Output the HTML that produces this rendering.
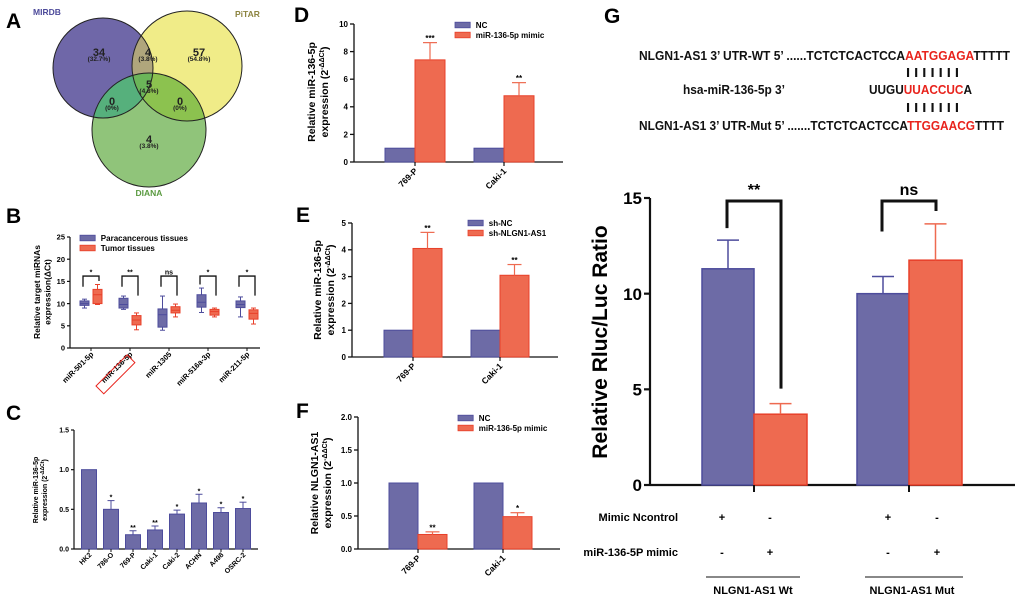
<!DOCTYPE html>
<html><head><meta charset="utf-8">
<style>
html,body{margin:0;padding:0;background:#fff;}
svg{display:block;font-family:"Liberation Sans",Arial,sans-serif;}
.b{font-weight:bold;}
</style></head>
<body>
<svg id="fig" width="1020" height="598" viewBox="0 0 1020 598">
<defs>
<clipPath id="cM"><circle cx="103" cy="68" r="50"/></clipPath>
<clipPath id="cP"><circle cx="187" cy="66" r="55"/></clipPath>
<clipPath id="cD"><circle cx="149" cy="130" r="57"/></clipPath>
</defs>
<!-- Panel labels -->
<g class="b" font-size="21" fill="#000">
<text x="6" y="28">A</text>
<text x="6" y="223">B</text>
<text x="6" y="420">C</text>
<text x="294" y="22">D</text>
<text x="296" y="222">E</text>
<text x="296" y="418">F</text>
<text x="604" y="23">G</text>
</g>
<!-- Venn -->
<g>
<circle cx="103" cy="68" r="50" fill="#6f67a8"/>
<circle cx="187" cy="66" r="55" fill="#f0ec88"/>
<circle cx="187" cy="66" r="55" fill="#b0a67c" clip-path="url(#cM)"/>
<circle cx="149" cy="130" r="57" fill="#90c47a"/>
<circle cx="149" cy="130" r="57" fill="#56b07c" clip-path="url(#cM)"/>
<circle cx="149" cy="130" r="57" fill="#8cc24f" clip-path="url(#cP)"/>
<g clip-path="url(#cM)"><circle cx="149" cy="130" r="57" fill="#6bb559" clip-path="url(#cP)"/></g>
<circle cx="103" cy="68" r="50" fill="none" stroke="#222" stroke-width="1"/>
<circle cx="187" cy="66" r="55" fill="none" stroke="#222" stroke-width="1"/>
<circle cx="149" cy="130" r="57" fill="none" stroke="#222" stroke-width="1"/>
<g class="b" text-anchor="middle" fill="#222">
<text x="99" y="56" font-size="11">34</text><text x="99" y="61" font-size="6.5">(32.7%)</text>
<text x="148" y="56" font-size="11">4</text><text x="148" y="61" font-size="6.5">(3.8%)</text>
<text x="199" y="56" font-size="11">57</text><text x="199" y="61" font-size="6.5">(54.8%)</text>
<text x="149" y="88" font-size="11">5</text><text x="149" y="93" font-size="6.5">(4.8%)</text>
<text x="112" y="105" font-size="11">0</text><text x="112" y="110" font-size="6.5">(0%)</text>
<text x="180" y="105" font-size="11">0</text><text x="180" y="110" font-size="6.5">(0%)</text>
<text x="149" y="143" font-size="11">4</text><text x="149" y="148" font-size="6.5">(3.8%)</text>
</g>
<text x="33" y="15" font-size="8.5" class="b" fill="#4d4a9a">MIRDB</text>
<text x="235" y="17" font-size="8.5" class="b" fill="#8c8440">PiTAR</text>
<text x="149" y="196" font-size="8.5" class="b" fill="#5a9a40" text-anchor="middle">DIANA</text>
</g>
<!-- Sequence G -->
<g class="b" font-size="12.5" fill="#111">
<text x="639" y="60" textLength="371" lengthAdjust="spacingAndGlyphs">NLGN1-AS1 3’ UTR-WT  5’ ......TCTCTCACTCCA<tspan fill="#e8231c">AATGGAGA</tspan>TTTTT</text>
<text x="906" y="77" textLength="53" lengthAdjust="spacingAndGlyphs">I  I I  I I  I I</text>
<text x="683" y="94" textLength="102" lengthAdjust="spacingAndGlyphs">hsa-miR-136-5p  3’</text>
<text x="869" y="94" textLength="103" lengthAdjust="spacingAndGlyphs">UUGU<tspan fill="#e8231c">UUACCUC</tspan>A</text>
<text x="906" y="112" textLength="53" lengthAdjust="spacingAndGlyphs">I  I I  I I  I I</text>
<text x="639" y="130" textLength="365" lengthAdjust="spacingAndGlyphs">NLGN1-AS1 3’ UTR-Mut 5’ .......TCTCTCACTCCA<tspan fill="#e8231c">TTGGAACG</tspan>TTTT</text>
</g>
<g id="marks"></g>
</svg>
<script>
// ---------- Data ----------
// Panel B boxplots
const bCats = ["miR-501-5p","miR-136-5p","miR-1305","miR-516a-3p","miR-211-5p"];
const bBlueMin = [9, 8.7, 4, 8, 7];
const bBlueQ1 = [9.6, 9, 4.7, 9.2, 9.1];
const bBlueMed = [10, 9.8, 7.5, 10.3, 9.8];
const bBlueQ3 = [10.6, 11.2, 8.8, 12, 10.6];
const bBlueMax = [11, 11.7, 11.7, 13.5, 11.5];
const bRedMin = [9.8, 4.1, 7, 7, 5.4];
const bRedQ1 = [10, 5.2, 7.9, 7.4, 6.5];
const bRedMed = [12, 6.3, 8.5, 8.2, 7.8];
const bRedQ3 = [13.2, 7.3, 9.3, 8.7, 8.6];
const bRedMax = [14.3, 7.9, 9.9, 9, 9];
const bSig = ["*","**","ns","*","*"];
const bTicks = [0,5,10,15,20,25];
// Panel C
const cCats = ["HK2","786-O","769-P","Caki-1","Caki-2","ACHN","A498","OSRC-2"];
const cVals = [1.0, 0.5, 0.18, 0.24, 0.44, 0.58, 0.46, 0.51];
const cErr = [0, 0.11, 0.05, 0.05, 0.05, 0.11, 0.06, 0.08];
const cSig = ["","*","**","**","*","*","*","*"];
const cTicks = [0, 0.5, 1.0, 1.5];
const cTickLabels = ["0.0","0.5","1.0","1.5"];
// Panel D
const dCats = ["769-P","Caki-1"];
const dNC = [1, 1];
const dMimic = [7.4, 4.8];
const dMimicErr = [1.25, 0.95];
const dSig = ["***","**"];
const dTicks = [0,2,4,6,8,10];
// Panel E
const eCats = ["769-P","Caki-1"];
const eNC = [1, 1];
const eSh = [4.05, 3.05];
const eShErr = [0.6, 0.4];
const eSig = ["**","**"];
const eTicks = [0,1,2,3,4,5];
// Panel F
const fCats = ["769-P","Caki-1"];
const fNC = [1, 1];
const fMimic = [0.22, 0.49];
const fMimicErr = [0.04, 0.06];
const fSig = ["**","*"];
const fTicks = [0,0.5,1.0,1.5,2.0];
const fTickLabels = ["0.0","0.5","1.0","1.5","2.0"];
// Panel G
const gCats = ["NLGN1-AS1 Wt","NLGN1-AS1 Mut"];
const gNC = [11.3, 10.0];
const gNCErr = [1.5, 0.9];
const gMimic = [3.7, 11.75];
const gMimicErr = [0.55, 1.9];
const gSig = ["**","ns"];
const gTicks = [0,5,10,15];

const BLUE = "#6d6ba6", BLUE_S = "#4d4c9c", RED = "#ee6a50", RED_S = "#e8402a";
const NS = "http://www.w3.org/2000/svg";
const root = document.getElementById("marks");

function mk(tag, attrs, name, parent) {
  const el = document.createElementNS(NS, tag);
  for (const k in attrs) el.setAttribute(k, attrs[k]);
  
  
  (parent || root).appendChild(el);
  return el;
}
function txt(s, attrs, name, parent) { const t = mk("text", attrs, name, parent); t.textContent = s; return t; }
function line(x1,y1,x2,y2,stroke,w,name,parent){ return mk("line",{x1,y1,x2,y2,stroke,"stroke-width":w},name,parent); }

function axes(g, L, ticks, labels, fs, name) {
  const y = v => L.yBot - (v / L.max) * (L.yBot - L.yTop);
  line(L.x0, L.yTop, L.x0, L.yBot, "#111", L.aw, name + "-y-axis", g);
  line(L.x0, L.yBot, L.xEnd, L.yBot, "#111", L.aw, name + "-x-axis", g);
  ticks.forEach((t, i) => {
    line(L.x0 - L.tl, y(t), L.x0, y(t), "#111", L.aw, name + "-y-tick", g);
    txt(labels ? labels[i] : String(t), {x: L.x0 - L.tl - 2, y: y(t) + fs * 0.36, "font-size": fs, "text-anchor": "end", "font-weight": "bold"}, name + "-y-tick-label", g);
  });
  return y;
}
function ylabel(g, lines, x, yc, fs, name) {
  lines.forEach((l, i) => {
    const t = mk("text", {x: 0, y: 0, "font-size": fs, "font-weight": "bold", "text-anchor": "middle", transform: `translate(${x + i * fs * 1.25},${yc}) rotate(-90)`}, name, g);
    t.innerHTML = l;
  });
}
function xcatLabel(g, s, cx, yb, fs, name) {
  txt(s, {x: 0, y: 0, "font-size": fs, "font-weight": "bold", "text-anchor": "end", transform: `translate(${cx + 3},${yb + fs * 0.9}) rotate(-45)`}, name, g);
}
function bar(g, x, w, y, v, fill, stroke, sw, name, L) {
  const top = y(v);
  return mk("rect", {x, y: top, width: w, height: L.yBot - top, fill, stroke, "stroke-width": sw}, name, g);
}
function errbar(g, cx, y, v, e, col, capw, sw, name) {
  if (e <= 0) return;
  line(cx, y(v), cx, y(v + e), col, sw, name, g);
  line(cx - capw, y(v + e), cx + capw, y(v + e), col, sw, name + "-cap", g);
}
function legend(g, x, y, items, fs, name) {
  items.forEach((it, i) => {
    mk("rect", {x, y: y + i * fs * 1.25 - fs * 0.35, width: fs * 1.9, height: fs * 0.7, fill: it[1], stroke: it[2], "stroke-width": 0.8}, name + "-swatch", g);
    txt(it[0], {x: x + fs * 2.6, y: y + i * fs * 1.25 + fs * 0.35, "font-size": fs, "font-weight": "bold"}, name + "-entry", g);
  });
}

// ---------- Panel B ----------
(function(){
  const g = mk("g", {}, "panel-b-boxplot");
  const L = {x0: 70, xEnd: 260, yTop: 237, yBot: 348, max: 25, tl: 3, aw: 1.2};
  const y = axes(g, L, bTicks, null, 7.5, "panel-b");
  ylabel(g, ["Relative target miRNAs", "expression(ΔCt)"], 40, 292, 8.5, "panel-b-y-axis-title");
  legend(g, 80, 238, [["Paracancerous  tissues", BLUE, BLUE_S], ["Tumor tissues", RED, RED_S]], 8, "panel-b-legend");
  const box = (cx, mn, q1, md, q3, mx, fill, stroke, name) => {
    line(cx, y(mn), cx, y(mx), stroke, 1, name + "-whisker", g);
    line(cx - 2.5, y(mn), cx + 2.5, y(mn), stroke, 1, name + "-whisker-min", g);
    line(cx - 2.5, y(mx), cx + 2.5, y(mx), stroke, 1, name + "-whisker-max", g);
    mk("rect", {x: cx - 4.5, y: y(q3), width: 9, height: y(q1) - y(q3), fill, stroke, "stroke-width": 1}, name + "-box", g);
    line(cx - 4.5, y(md), cx + 4.5, y(md), stroke, 1, name + "-median", g);
  };
  bCats.forEach((c, i) => {
    const gc = L.x0 + 21 + i * 39;
    box(gc - 6.5, bBlueMin[i], bBlueQ1[i], bBlueMed[i], bBlueQ3[i], bBlueMax[i], BLUE, BLUE_S, "box-paracancerous-" + c);
    box(gc + 6.5, bRedMin[i], bRedQ1[i], bRedMed[i], bRedQ3[i], bRedMax[i], RED, RED_S, "box-tumor-" + c);
    const top = y(16.2);
    const path = `M${gc - 8},${y(Math.max(bBlueMax[i], 13) + 0.8)} V${top} H${gc + 8} V${y(Math.max(bRedMax[i], 11) + 0.8)}`;
    mk("path", {d: path, fill: "none", stroke: "#111", "stroke-width": 1.3}, "sig-bracket-" + c, g);
    txt(bSig[i], {x: gc, y: top - 1.5, "font-size": 7, "font-weight": "bold", "text-anchor": "middle"}, "sig-label-" + c, g);
    line(gc, L.yBot, gc, L.yBot + 3, "#111", 1, "panel-b-x-tick", g);
    xcatLabel(g, c, gc, L.yBot, 7.5, "panel-b-x-label");
  });
  mk("rect", {x: 0, y: 0, width: 44, height: 11, fill: "none", stroke: "#e8231c", "stroke-width": 1, transform: `translate(${L.x0 + 60 - 34},${L.yBot + 38}) rotate(-45)`}, "highlight-box-mir-136-5p", g);
})();

// ---------- Panel C ----------
(function(){
  const g = mk("g", {}, "panel-c-bar-chart");
  const L = {x0: 74, xEnd: 258, yTop: 430, yBot: 549, max: 1.5, tl: 3, aw: 1.2};
  const y = axes(g, L, cTicks, cTickLabels, 7, "panel-c");
  ylabel(g, ["Relative miR-136-5p", "expression (2<tspan font-size='5' dy='-3'>-ΔΔCt</tspan><tspan dy='3'>)</tspan>"], 38, 490, 7, "panel-c-y-axis-title");
  cCats.forEach((c, i) => {
    const cx = L.x0 + 15 + i * 22;
    bar(g, cx - 7.5, 15, y, cVals[i], BLUE, BLUE_S, 1, "bar-" + c, L);
    errbar(g, cx, y, cVals[i], cErr[i], BLUE_S, 3.5, 1, "error-bar-" + c);
    if (cSig[i]) txt(cSig[i], {x: cx, y: y(cVals[i] + cErr[i]) - 1, "font-size": 7, "font-weight": "bold", "text-anchor": "middle"}, "sig-label-" + c, g);
    line(cx, L.yBot, cx, L.yBot + 3, "#111", 1, "panel-c-x-tick", g);
    xcatLabel(g, c, cx, L.yBot, 7, "panel-c-x-label");
  });
})();

// ---------- Grouped panels D, E, F ----------
function grouped(cfg) {
  const g = mk("g", {}, cfg.name);
  const L = cfg.L;
  const y = axes(g, L, cfg.ticks, cfg.tickLabels, 8, cfg.name);
  ylabel(g, cfg.ylab, cfg.ylx, cfg.yly, 10.5, cfg.name + "-y-axis-title");
  legend(g, cfg.lx, cfg.ly, [[cfg.names[0], BLUE, BLUE_S], [cfg.names[1], RED, RED_S]], 8, cfg.name + "-legend");
  cfg.cats.forEach((c, i) => {
    const cx = L.x0 + cfg.off + i * cfg.step;
    bar(g, cx - cfg.bw, cfg.bw, y, cfg.a[i], BLUE, BLUE_S, 1, "bar-nc-" + c, L);
    bar(g, cx, cfg.bw, y, cfg.b[i], RED, RED_S, 1, "bar-treated-" + c, L);
    errbar(g, cx + cfg.bw / 2, y, cfg.b[i], cfg.be[i], RED, 7, 1.2, "error-bar-" + c);
    txt(cfg.sig[i], {x: cx + cfg.bw / 2, y: y(cfg.b[i] + cfg.be[i]) - 1.5, "font-size": 8, "font-weight": "bold", "text-anchor": "middle"}, "sig-label-" + c, g);
    line(cx, L.yBot, cx, L.yBot + 4, "#111", 1.2, cfg.name + "-x-tick", g);
    xcatLabel(g, c, cx, L.yBot + 2, 8.5, cfg.name + "-x-label");
  });
}
const sup = "<tspan font-size='7' dy='-4'>-ΔΔCt</tspan><tspan dy='4'>)</tspan>";
grouped({name: "panel-d", L: {x0: 354, xEnd: 563, yTop: 24, yBot: 162, max: 10, tl: 4, aw: 1.3},
  ticks: dTicks, cats: dCats, a: dNC, b: dMimic, be: dMimicErr, sig: dSig, off: 61, step: 89, bw: 30,
  names: ["NC", "miR-136-5p mimic"], lx: 455, ly: 25, ylab: ["Relative miR-136-5p", "expression (2" + sup], ylx: 315, yly: 92});
grouped({name: "panel-e", L: {x0: 352, xEnd: 558, yTop: 223, yBot: 357, max: 5, tl: 4, aw: 1.3},
  ticks: eTicks, cats: eCats, a: eNC, b: eSh, be: eShErr, sig: eSig, off: 61, step: 87, bw: 29,
  names: ["sh-NC", "sh-NLGN1-AS1"], lx: 468, ly: 223, ylab: ["Relative miR-136-5p", "expression (2" + sup], ylx: 321, yly: 290});
grouped({name: "panel-f", L: {x0: 358, xEnd: 560, yTop: 417, yBot: 549, max: 2, tl: 4, aw: 1.3},
  ticks: fTicks, tickLabels: fTickLabels, cats: fCats, a: fNC, b: fMimic, be: fMimicErr, sig: fSig, off: 60, step: 85, bw: 29,
  names: ["NC", "miR-136-5p mimic"], lx: 458, ly: 418, ylab: ["Relative NLGN1-AS1", "expression (2" + sup], ylx: 318, yly: 483});

// ---------- Panel G ----------
(function(){
  const g = mk("g", {}, "panel-g-bar-chart");
  const L = {x0: 650, xEnd: 1015, yTop: 198, yBot: 485, max: 15, tl: 6, aw: 2.2};
  const y = axes(g, L, gTicks, null, 17, "panel-g");
  ylabel(g, ["Relative Rluc/Luc Ratio"], 607, 342, 21, "panel-g-y-axis-title");
  gCats.forEach((c, i) => {
    const cx = 754 + i * 155;
    bar(g, cx - 52, 52, y, gNC[i], BLUE, BLUE_S, 1.5, "bar-mimic-ncontrol-" + c, L);
    bar(g, cx, 53, y, gMimic[i], RED, RED_S, 1.5, "bar-mir-136-5p-mimic-" + c, L);
    errbar(g, cx - 26, y, gNC[i], gNCErr[i], BLUE_S, 11, 1.5, "error-bar-ncontrol-" + c);
    errbar(g, cx + 26.5, y, gMimic[i], gMimicErr[i], RED, 11, 1.5, "error-bar-mimic-" + c);
    line(cx, L.yBot, cx, L.yBot + 7, "#111", 2, "panel-g-x-tick", g);
    const top = 201;
    const lh = Math.min(y(gNC[i] + gNCErr[i]) - 12, y(gNC[i]) - 50);
    const lb = y(Math.max(gNC[i] + gNCErr[i], gMimic[i] + gMimicErr[i])) - 10;
    const left = i === 0 ? y(gNC[i] + gNCErr[i]) - 12 : y(gNC[i] + gNCErr[i]) - 45;
    const right = i === 0 ? y(gMimic[i] + gMimicErr[i]) - 15 : y(gMimic[i] + gMimicErr[i]) - 22;
    mk("path", {d: `M${cx - 27},${left} V${top} H${cx + 27} V${Math.max(right, top + 10)}`, fill: "none", stroke: "#111", "stroke-width": 3}, "sig-bracket-" + c, g);
    txt(gSig[i], {x: cx, y: top - 6, "font-size": 16, "font-weight": "bold", "text-anchor": "middle"}, "sig-label-" + c, g);
  });
  // condition table
  const fs = 11;
  txt("Mimic Ncontrol", {x: 678, y: 521, "font-size": fs, "font-weight": "bold", "text-anchor": "end"}, "row-label-mimic-ncontrol", g);
  txt("miR-136-5P mimic", {x: 678, y: 556, "font-size": fs, "font-weight": "bold", "text-anchor": "end"}, "row-label-mir-136-5p-mimic", g);
  const row1 = ["+","-","+","-"], row2 = ["-","+","-","+"], cols = [722, 770, 888, 937];
  cols.forEach((x, i) => {
    txt(row1[i], {x, y: 521, "font-size": fs, "font-weight": "bold", "text-anchor": "middle"}, "row1-mark", g);
    txt(row2[i], {x, y: 556, "font-size": fs, "font-weight": "bold", "text-anchor": "middle"}, "row2-mark", g);
  });
  gCats.forEach((c, i) => {
    const cx = 753 + i * 159;
    line(cx - 47, 577, cx + 47 + i * 4, 577, "#111", 1, "group-line-" + c, g);
    txt(c, {x: cx, y: 594, "font-size": fs, "font-weight": "bold", "text-anchor": "middle"}, "group-label-" + c, g);
  });
})();
</script>
</body></html>
